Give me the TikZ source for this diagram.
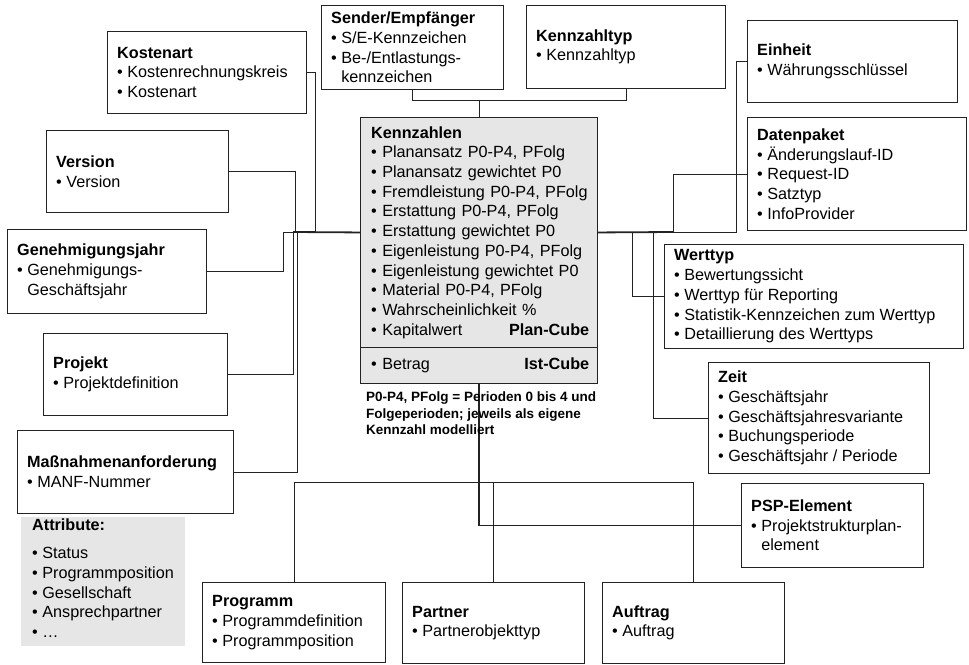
\documentclass[tikz,border=0pt]{standalone}
\usepackage{fontspec}
\setmainfont{Liberation Sans}
\definecolor{lineC}{RGB}{35,35,35}
\definecolor{boxgray}{RGB}{230,230,230}
\newcommand\bxf{\fontsize{16.2}{19.7}\selectfont\hyphenpenalty=10000\exhyphenpenalty=10000}
\newcommand\bul{•\ }
\newcommand\hang{\phantom{•\ }}
% a framed dimension box: name, x, y (top left), width, height, text
\newcommand\dimbox[6]{%
  \node[box, minimum width=#4, minimum height=#5] (#1) at (#2,#3) {};
  \node[txt, anchor=west] (#1-t) at ([xshift=10pt]#1.west) {#6};}
\begin{document}
\begin{tikzpicture}[x=1pt,y=-1pt,
  box/.style={draw=lineC, line width=0.9pt, fill=white, inner sep=0pt, anchor=north west},
  txt/.style={inner sep=0pt, align=left, font=\bxf},
  conn/.style={draw=lineC, line width=0.9pt},
  bus/.style={draw=lineC, line width=1.8pt}]
\useasboundingbox (0,0) rectangle (969,664);

% ---- dimension boxes, left column
\dimbox{kostenart}{107}{31}{199}{82}
  {\textbf{Kostenart}\\\bul Kostenrechnungskreis\\\bul Kostenart}
\dimbox{version}{46}{130}{182}{82}
  {\textbf{Version}\\\bul Version}
\dimbox{genjahr}{7}{229}{199}{84}
  {\textbf{Genehmigungsjahr}\\\bul Genehmigungs-\\\hang Geschäftsjahr}
\dimbox{projekt}{43}{333}{184}{82}
  {\textbf{Projekt}\\\bul Projektdefinition}
\dimbox{manf}{17}{430}{216}{83}
  {\textbf{Maßnahmenanforderung}\\\bul MANF-Nummer}

% attribute list of the measure request (shaded, no frame)
\node[box, draw=none, fill=boxgray, minimum width=164, minimum height=129] (attr) at (21,517) {};
\node[txt, anchor=north west] (attr-t) at ([xshift=11pt,yshift=-2pt]attr.north west)
  {\textbf{Attribute:}\\[8pt]\bul Status\\\bul Programmposition\\\bul Gesellschaft\\\bul Ansprechpartner\\\bul …};

% ---- top row
\dimbox{sender}{321}{5}{182}{84}
  {\textbf{Sender/Empfänger}\\\bul S/E-Kennzeichen\\\bul Be-/Entlastungs-\\\hang kennzeichen}
\dimbox{kzt}{526}{5}{199}{83}
  {\textbf{Kennzahltyp}\\\bul Kennzahltyp}

% ---- right column
\dimbox{einheit}{747}{20}{210}{82}
  {\textbf{Einheit}\\\bul Währungsschlüssel}
\dimbox{daten}{747}{117}{219}{113}
  {\textbf{Datenpaket}\\\bul Änderungslauf-ID\\\bul Request-ID\\\bul Satztyp\\\bul InfoProvider}
\dimbox{werttyp}{664}{244}{299}{104}
  {\textbf{Werttyp}\\\bul Bewertungssicht\\\bul Werttyp für Reporting\\\bul Statistik-Kennzeichen zum Werttyp\\\bul Detaillierung des Werttyps}
\dimbox{zeit}{708}{362}{221}{111}
  {\textbf{Zeit}\\\bul Geschäftsjahr\\\bul Geschäftsjahresvariante\\\bul Buchungsperiode\\\bul Geschäftsjahr / Periode}
\dimbox{psp}{741}{483}{182}{84}
  {\textbf{PSP-Element}\\\bul Projektstrukturplan-\\\hang element}

% ---- bottom row
\dimbox{programm}{202}{582}{183}{80}
  {\textbf{Programm}\\\bul Programmdefinition\\\bul Programmposition}
\dimbox{partner}{402}{582}{182}{81}
  {\textbf{Partner}\\\bul Partnerobjekttyp}
\dimbox{auftrag}{602}{582}{182}{81}
  {\textbf{Auftrag}\\\bul Auftrag}

% ---- key figures: plan cube part and actuals part
\node[box, fill=boxgray, minimum width=237, minimum height=230] (kzplan) at (360,117) {};
\node[box, fill=boxgray, minimum width=237, minimum height=36] (kzist) at (360,347) {};
\node[txt, anchor=west, text width=218pt] (kzplan-t) at ([xshift=11pt]kzplan.west)
  {\textbf{Kennzahlen}\\\bul Planansatz P0-P4, PFolg\\\bul Planansatz gewichtet P0\\
   \bul Fremdleistung P0-P4, PFolg\\\bul Erstattung P0-P4, PFolg\\\bul Erstattung gewichtet P0\\
   \bul Eigenleistung P0-P4, PFolg\\\bul Eigenleistung gewichtet P0\\\bul Material P0-P4, PFolg\\
   \bul Wahrscheinlichkeit \%\\\bul Kapitalwert\hfill\textbf{Plan-Cube}};
\node[txt, anchor=west, text width=218pt] (kzist-t) at ([xshift=11pt]kzist.west)
  {\bul Betrag\hfill\textbf{Ist-Cube}\hspace*{10pt}};

% ---- bus points
\coordinate (topbus) at (479,100);
\coordinate (lbus) at (293,232);
\coordinate (lk) at (315,232);
\coordinate (lv) at (295,232);
\coordinate (lg) at (283,232);
\coordinate (lm) at (297,232);
\coordinate (rbus) at (673,232);
\coordinate (re) at (736,232);
\coordinate (rw) at (632,232);
\coordinate (rz) at (653,232);
\coordinate (bbus) at (478,482);

% ---- connectors
\draw[conn] (sender.south) -- (sender.south |- topbus) -| (kzt.south);
\draw[conn] (kzplan.north) -- (kzplan.north |- topbus);

\draw[bus] (kzplan.west) -- (lbus);
\draw[conn] (kostenart.east) -| (lk);
\draw[conn] (version.east) -| (lv);
\draw[conn] (genjahr.east) -| (lg) -- (lbus);
\draw[conn] (projekt.east) -| (lbus);
\draw[conn] (manf.east) -| (lm);

\draw[bus] (kzplan.east) -- (rbus);
\draw[conn] (einheit.west) -| (re) -- (rbus);
\draw[conn] (daten.west) -| (rbus);
\draw[conn] (werttyp.west) -| (rw);
\draw[conn] (zeit.west) -| (rz);

\draw[conn] (programm.north) -- (programm.north |- bbus) -| (auftrag.north);
\draw[conn] (partner.north) -- (partner.north |- bbus);
\draw[conn, line width=1.2pt] (kzist.south) |- (psp.west);

% ---- footnote below the key figures
\node[anchor=north west, inner sep=0pt, align=left,
      font=\bfseries\fontsize{13.5}{16.5}\selectfont] (note) at (366,392)
  {P0-P4, PFolg = Perioden 0 bis 4 und\\Folgeperioden; jeweils als eigene\\Kennzahl modelliert};
\end{tikzpicture}
\end{document}
